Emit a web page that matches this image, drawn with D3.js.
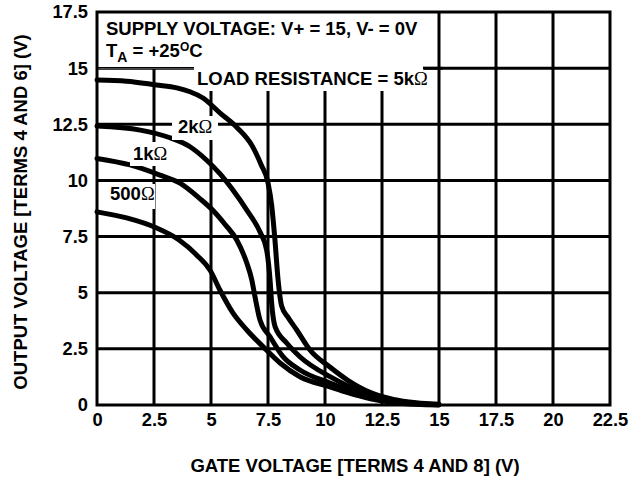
<!DOCTYPE html>
<html><head><meta charset="utf-8">
<script src="https://cdn.jsdelivr.net/npm/d3@7"></script>
<style>
body{margin:0;background:#fff}
svg text{font-family:"Liberation Sans",Arial,Helvetica,sans-serif;font-weight:bold;fill:#000}
</style>
</head><body>
<svg id="c" width="637" height="481"></svg>
<script>
// ---- data ----
const xTicks=[0,2.5,5,7.5,10,12.5,15,17.5,20,22.5];
const xTickLabels=["0","2.5","5","7.5","10","12.5","15","17.5","20","22.5"];
const yTicks=[0,2.5,5,7.5,10,12.5,15,17.5];
const yTickLabels=["0","2.5","5","7.5","10","12.5","15","17.5"];

const x5k=[0,1.3,2.6,3.5,4.08,4.65,5.4,6.15,6.8,7.2,7.5,7.66,7.8,7.94,8.1,8.38,8.76,9.34,10.2,11,12,13,14,15];
const y5k=[14.47,14.42,14.25,14.12,13.95,13.67,13.0,12.35,11.55,10.7,9.9,8.9,7.4,5.6,4.4,3.9,3.34,2.45,1.7,1.1,0.55,0.25,0.1,0.03];

const x2k=[0,1.9,3.2,4.08,4.81,5.39,5.96,6.57,7.15,7.44,7.59,7.66,7.81,8.32,8.9,10.22,11,12,13,14,15];
const y2k=[12.42,12.24,11.9,11.5,10.9,10.3,9.57,8.68,7.7,6.9,5.57,4.54,3.49,2.76,2.15,1.26,0.85,0.45,0.2,0.07,0.02];

const x1k=[0,1.45,2.76,3.64,4.5,5.1,5.61,6.13,6.57,6.79,6.93,7.15,7.59,8.16,8.9,10.22,11,12,13,14,15];
const y1k=[10.98,10.69,10.24,9.88,9.2,8.65,8.05,7.35,6.32,5.57,4.82,3.78,3.04,2.15,1.56,0.98,0.68,0.35,0.15,0.05,0.01];

const x500=[0,1.3,2.62,3.6,4.4,4.96,5.39,5.96,6.57,7.28,8.03,8.9,10.22,11,12,13,14,15];
const y500=[8.6,8.33,7.88,7.35,6.65,6.0,5.12,4.1,3.34,2.6,1.87,1.26,0.81,0.55,0.28,0.11,0.03,0];

const seriesX=[x5k,x2k,x1k,x500];
const seriesY=[y5k,y2k,y1k,y500];

// ---- chart ----
const svg=d3.select("#c");
const x=d3.scaleLinear().domain([0,22.5]).range([97,610]);
const y=d3.scaleLinear().domain([0,17.5]).range([405,12]);

svg.append("rect").attr("width",637).attr("height",481).attr("fill","#fff");

// grid
const grid=svg.append("g").attr("stroke","#000").attr("stroke-width",3);
grid.selectAll(".vx").data(xTicks.slice(1,-1)).join("line")
  .attr("x1",d=>x(d)).attr("x2",d=>x(d)).attr("y1",y(0)).attr("y2",y(17.5));
grid.selectAll(".hy").data(yTicks.slice(1,-1)).join("line")
  .attr("y1",d=>y(d)).attr("y2",d=>y(d)).attr("x1",x(0)).attr("x2",x(22.5));

// curves
const line=d3.line().x(d=>x(d[0])).y(d=>y(d[1])).curve(d3.curveMonotoneX);
svg.append("g").selectAll("path").data(seriesX.map((xs,i)=>xs.map((v,j)=>[v,seriesY[i][j]])))
  .join("path").attr("d",line).attr("fill","none").attr("stroke","#000")
  .attr("stroke-width",5).attr("stroke-linejoin","round").attr("stroke-linecap","round");

// legend box
svg.append("rect").attr("x",97).attr("y",12).attr("width",346).attr("height",56.3).attr("fill","#fff");
svg.append("line").attr("x1",97).attr("x2",443).attr("y1",67.5).attr("y2",67.5).attr("stroke","#000").attr("stroke-width",1.2);
svg.append("line").attr("x1",x(15)).attr("x2",x(15)).attr("y1",12).attr("y2",70).attr("stroke","#000").attr("stroke-width",3);

// white label boxes
const boxes=[[194,66,230,25],[172,116,46,24],[130,142,42,24],[105,184,50,25]];
svg.append("g").selectAll("rect").data(boxes).join("rect")
  .attr("x",d=>d[0]).attr("y",d=>d[1]).attr("width",d=>d[2]).attr("height",d=>d[3]).attr("fill","#fff");
svg.append("line").attr("x1",423).attr("x2",443).attr("y1",y(15)).attr("y2",y(15)).attr("stroke","#000").attr("stroke-width",3);

// frame
svg.append("rect").attr("x",x(0)).attr("y",y(17.5)).attr("width",x(22.5)-x(0)).attr("height",y(0)-y(17.5))
  .attr("fill","none").attr("stroke","#000").attr("stroke-width",3);

// axes
const ax=svg.append("g").attr("transform",`translate(0,${y(0)})`)
  .call(d3.axisBottom(x).tickValues(xTicks).tickFormat((d,i)=>xTickLabels[i]).tickSize(0).tickPadding(8));
ax.select(".domain").remove();
ax.attr("font-size",18.3).attr("font-family",null);
const ay=svg.append("g").attr("transform",`translate(${x(0)},0)`)
  .call(d3.axisLeft(y).tickValues(yTicks).tickFormat((d,i)=>yTickLabels[i]).tickSize(0).tickPadding(9));
ay.select(".domain").remove();
ay.attr("font-size",18.3).attr("font-family",null);

// axis titles
svg.append("text").attr("x",355).attr("y",472).attr("text-anchor","middle").attr("font-size",18.5)
  .text("GATE VOLTAGE [TERMS 4 AND 8] (V)");
svg.append("text").attr("transform","translate(27,212) rotate(-90)").attr("text-anchor","middle").attr("font-size",18.5)
  .text("OUTPUT VOLTAGE [TERMS 4 AND 6] (V)");

// legend texts
svg.append("text").attr("x",106).attr("y",35).attr("font-size",18.5).text("SUPPLY VOLTAGE: V+ = 15, V- = 0V");
const t2=svg.append("text").attr("x",106).attr("y",57).attr("font-size",18.5);
t2.append("tspan").text("T");
t2.append("tspan").attr("font-size",14).attr("dy",5).text("A");
t2.append("tspan").attr("dy",-5).text(" = +25");
t2.append("tspan").attr("font-size",12).attr("dy",-6).text("O");
t2.append("tspan").attr("dy",6).text("C");

function omegaLabel(px,py,txt){
  const t=svg.append("text").attr("x",px).attr("y",py).attr("font-size",18.5);
  t.append("tspan").text(txt);
  t.append("tspan").attr("font-family","'Liberation Serif','Times New Roman',serif").attr("font-weight","normal").text("Ω");
}
omegaLabel(197,85,"LOAD RESISTANCE = 5k");
omegaLabel(178,133,"2k");
omegaLabel(133,160,"1k");
omegaLabel(110,200,"500");
</script>
</body></html>
